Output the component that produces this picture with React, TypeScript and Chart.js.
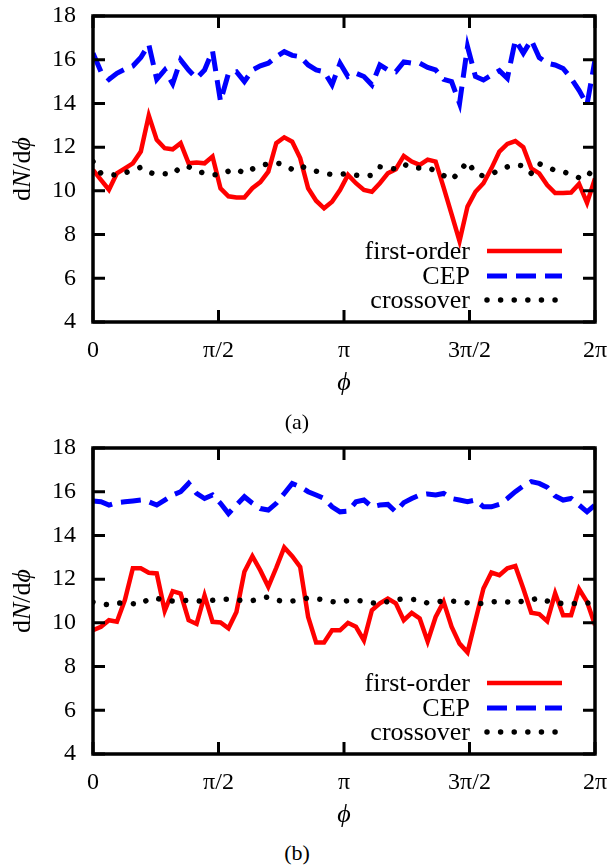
import React, { useEffect, useRef } from "react";
import { Chart, registerables } from "chart.js";

Chart.register(...registerables);

// ---------- data ----------
const N_INTERVALS = 63;
const PHI = Array.from({ length: N_INTERVALS + 1 }, (_, i) => (2 * Math.PI * i) / N_INTERVALS);

const X_TICK_VALUES = [0, Math.PI / 2, Math.PI, (3 * Math.PI) / 2, 2 * Math.PI];
const X_TICK_LABELS = ["0", "π/2", "π", "3π/2", "2π"];
const Y_MIN = 4;
const Y_MAX = 18;
const Y_STEP = 2;

const SERIES_LABELS = ["first-order", "CEP", "crossover"];
const CAPTIONS = ["(a)", "(b)"];
const PHI_GLYPH = "ϕ";

// panel (a)
const A_FIRST = [
  10.96, 10.5, 10.05, 10.8, 11.03, 11.26, 11.8, 13.45, 12.33, 11.95, 11.9, 12.18, 11.26, 11.3, 11.26, 11.57,
  10.12, 9.75, 9.7, 9.7, 10.12, 10.4, 10.88, 12.18, 12.45, 12.25, 11.5, 10.12, 9.55, 9.2, 9.5, 10.04,
  10.73, 10.35, 10.04, 9.96, 10.35, 10.8, 10.99, 11.6, 11.34, 11.19, 11.43, 11.34, 10.16, 8.94, 7.7, 9.28,
  9.96, 10.35, 11.03, 11.8, 12.15, 12.28, 12.0, 11.03, 10.8, 10.27, 9.9, 9.9, 9.92, 10.32, 9.45, 10.57,
];
const A_CEP = [
  16.3, 15.45, 15.1, 15.38, 15.56, 15.71, 16.1, 16.7, 15.1, 15.53, 14.9, 15.99, 15.53, 15.15, 15.53, 16.4,
  14.1, 15.38, 15.45, 15.0, 15.53, 15.72, 15.84, 16.14, 16.37, 16.2, 16.14, 15.76, 15.53, 15.45, 14.85, 15.84,
  15.23, 15.38, 15.23, 14.85, 15.76, 15.53, 15.45, 15.9, 15.84, 15.84, 15.65, 15.53, 15.1, 15.0, 14.0, 16.6,
  15.23, 15.07, 15.3, 15.5, 15.15, 16.9, 16.3, 16.9, 16.1, 15.84, 15.76, 15.6, 15.15, 14.6, 13.95, 15.99,
];
const A_CROSS = [
  11.34, 10.8, 10.75, 10.72, 10.82, 10.95, 11.08, 10.85, 10.75, 10.78, 10.75, 11.1, 11.1, 10.92, 10.8, 10.74,
  10.74, 10.9, 11.0, 10.8, 11.0, 11.16, 11.23, 11.28, 11.2, 10.98, 11.15, 11.0, 10.9, 10.8, 10.75, 10.75,
  10.8, 10.72, 10.66, 10.72, 11.1, 11.05, 11.0, 11.22, 11.05, 11.05, 11.06, 10.92, 10.7, 10.5, 10.88, 11.35,
  10.8, 10.68, 10.77, 10.95, 11.1, 11.19, 11.15, 10.8, 11.24, 11.1, 10.93, 10.88, 10.75, 10.6, 10.6, 11.19,
];

// panel (b)
const B_FIRST = [
  9.66, 9.82, 10.12, 10.05, 11.04, 12.5, 12.5, 12.29, 12.26, 10.55, 11.45, 11.34, 10.12, 9.95, 11.25, 10.05,
  10.02, 9.75, 10.5, 12.34, 13.05, 12.4, 11.65, 12.52, 13.45, 13.05, 12.56, 10.27, 9.1, 9.1, 9.66, 9.66,
  10.0, 9.82, 9.2, 10.58, 10.89, 11.11, 10.89, 10.12, 10.46, 10.2, 9.15, 10.27, 10.96, 9.82, 9.05, 8.65,
  10.12, 11.57, 12.3, 12.18, 12.5, 12.6, 11.57, 10.46, 10.4, 10.08, 11.35, 10.35, 10.35, 11.55, 10.96, 9.9,
];
const B_CEP = [
  15.58, 15.54, 15.39, 15.5, 15.54, 15.58, 15.62, 15.54, 15.39, 15.62, 15.85, 16.0, 16.38, 15.92, 15.69, 15.85,
  15.47, 15.0, 15.39, 15.77, 15.47, 15.23, 15.16, 15.47, 15.92, 16.38, 16.23, 16.0, 15.85, 15.69, 15.31, 15.08,
  15.11, 15.54, 15.62, 15.31, 15.39, 15.42, 15.08, 15.5, 15.69, 15.85, 15.9, 15.85, 15.92, 15.69, 15.62, 15.54,
  15.62, 15.31, 15.31, 15.42, 15.69, 16.0, 16.26, 16.46, 16.38, 16.2, 15.8, 15.62, 15.69, 15.39, 15.08, 15.39,
];
const B_CROSS = [
  10.95, 10.88, 10.82, 10.9, 10.92, 10.88, 10.85, 11.1, 11.12, 11.02, 11.0, 11.0, 11.04, 11.02, 10.97, 11.03,
  11.08, 11.08, 11.06, 11.0, 11.02, 11.1, 11.19, 11.05, 10.97, 11.0, 11.05, 11.14, 11.1, 11.06, 10.97, 10.93,
  11.02, 11.03, 11.0, 10.92, 10.87, 10.98, 11.05, 11.1, 11.08, 11.05, 10.9, 10.95, 11.0, 11.0, 10.97, 10.92,
  10.89, 10.89, 10.95, 11.0, 10.96, 10.92, 11.0, 11.05, 11.14, 11.0, 10.9, 10.89, 10.89, 10.89, 10.9, 10.93,
];

// ---------- style ----------
const FONT = "'Liberation Serif', 'Times New Roman', serif";
const SERIES_STYLE = [
  { color: "#ff0000", width: 4.5, dash: [] as number[], cap: "butt" as CanvasLineCap },
  { color: "#0000ff", width: 5, dash: [20, 9], cap: "butt" as CanvasLineCap },
  { color: "#000000", width: 5.5, dash: [0.01, 13.6], cap: "round" as CanvasLineCap },
];

const framePlugin = {
  id: "gnuplotFrame",
  afterDraw(chart: any) {
    const { ctx, chartArea, scales } = chart;
    const { left, right, top, bottom } = chartArea;
    const xs = scales.x;
    const ys = scales.y;
    ctx.save();
    ctx.strokeStyle = "#000";
    ctx.lineCap = "butt";
    ctx.setLineDash([]);
    ctx.lineWidth = 3;
    const tl = 12;
    ctx.beginPath();
    for (const v of X_TICK_VALUES) {
      const px = xs.getPixelForValue(v);
      ctx.moveTo(px, bottom);
      ctx.lineTo(px, bottom - tl);
      ctx.moveTo(px, top);
      ctx.lineTo(px, top + tl);
    }
    for (let v = Y_MIN; v <= Y_MAX; v += Y_STEP) {
      const py = ys.getPixelForValue(v);
      ctx.moveTo(left, py);
      ctx.lineTo(left + tl, py);
      ctx.moveTo(right, py);
      ctx.lineTo(right - tl, py);
    }
    ctx.stroke();
    ctx.lineWidth = 3.5;
    ctx.strokeRect(left, top, right - left, bottom - top);

    // y axis title: d N / d phi
    const parts = [
      { t: "d", it: false },
      { t: "N", it: true },
      { t: "/d", it: false },
      { t: PHI_GLYPH, it: true },
    ];
    const fs = 26;
    let total = 0;
    const widths: number[] = [];
    for (const p of parts) {
      ctx.font = `${p.it ? "italic " : ""}${fs}px ${FONT}`;
      const w = ctx.measureText(p.t).width;
      widths.push(w);
      total += w;
    }
    ctx.save();
    ctx.translate(23, (top + bottom) / 2);
    ctx.rotate(-Math.PI / 2);
    ctx.fillStyle = "#000";
    ctx.textBaseline = "middle";
    ctx.textAlign = "left";
    let cx = -total / 2;
    parts.forEach((p, i) => {
      ctx.font = `${p.it ? "italic " : ""}${fs}px ${FONT}`;
      ctx.fillText(p.t, cx, 0);
      cx += widths[i];
    });
    ctx.restore();

    // legend
    const rows = [235, 260, 284];
    ctx.font = `26px ${FONT}`;
    ctx.textAlign = "right";
    ctx.textBaseline = "middle";
    ctx.fillStyle = "#000";
    SERIES_LABELS.forEach((lab, i) => {
      const y = top + rows[i];
      ctx.fillText(lab, right - 125, y + 1);
      const st = SERIES_STYLE[i];
      ctx.beginPath();
      ctx.strokeStyle = st.color;
      ctx.lineWidth = st.width;
      ctx.lineCap = st.cap;
      ctx.setLineDash(st.dash);
      ctx.moveTo(right - 108, y);
      ctx.lineTo(right - 33, y);
      ctx.stroke();
    });
    ctx.restore();
  },
};

function makeConfig(first: number[], cep: number[], cross: number[]): any {
  const series = [first, cep, cross];
  return {
    type: "line",
    data: {
      datasets: series.map((vals, i) => ({
        label: SERIES_LABELS[i],
        data: PHI.map((x, k) => ({ x, y: vals[k] })),
        borderColor: SERIES_STYLE[i].color,
        backgroundColor: SERIES_STYLE[i].color,
        borderWidth: SERIES_STYLE[i].width,
        borderDash: SERIES_STYLE[i].dash,
        borderCapStyle: SERIES_STYLE[i].cap,
        borderJoinStyle: "miter",
        pointRadius: 0,
        tension: 0,
        fill: false,
        order: 2 - i,
      })),
    },
    options: {
      animation: false,
      responsive: false,
      devicePixelRatio: 1,
      layout: { padding: { top: 16, right: 12, left: 0, bottom: 0 } },
      plugins: { legend: { display: false }, tooltip: { enabled: false } },
      scales: {
        x: {
          type: "linear",
          min: 0,
          max: 2 * Math.PI,
          afterBuildTicks: (s: any) => {
            s.ticks = X_TICK_VALUES.map((v) => ({ value: v }));
          },
          afterFit: (s: any) => {
            s.height = 78;
            s.paddingLeft = 0;
            s.paddingRight = 0;
          },
          ticks: {
            callback: (_v: any, i: number) => X_TICK_LABELS[i],
            font: { family: FONT, size: 24 },
            color: "#000",
            padding: 14,
            maxRotation: 0,
            autoSkip: false,
          },
          grid: { display: false, drawTicks: false },
          border: { display: false },
          title: {
            display: true,
            text: PHI_GLYPH,
            color: "#000",
            font: { family: FONT, size: 26, style: "italic" },
            padding: { top: 0, bottom: 1 },
          },
        },
        y: {
          type: "linear",
          min: Y_MIN,
          max: Y_MAX,
          afterFit: (s: any) => {
            s.width = 93;
            s.paddingTop = 0;
            s.paddingBottom = 0;
          },
          ticks: {
            stepSize: Y_STEP,
            font: { family: FONT, size: 24 },
            color: "#000",
            padding: 17,
          },
          grid: { display: false, drawTicks: false },
          border: { display: false },
        },
      },
    },
    plugins: [framePlugin],
  };
}

function Panel({ first, cep, cross, top }: { first: number[]; cep: number[]; cross: number[]; top: number }) {
  const ref = useRef<HTMLCanvasElement | null>(null);
  useEffect(() => {
    if (!ref.current) return;
    const chart = new Chart(ref.current, makeConfig(first, cep, cross));
    return () => chart.destroy();
  }, [first, cep, cross]);
  return (
    <div style={{ position: "absolute", left: 0, top, width: 607, height: 400 }}>
      <canvas ref={ref} width={607} height={400} style={{ width: 607, height: 400, display: "block" }} />
    </div>
  );
}

export default function App() {
  const cap: React.CSSProperties = {
    position: "absolute",
    left: 0,
    width: 594,
    textAlign: "center",
    fontFamily: FONT,
    fontSize: 22,
    lineHeight: "26px",
    color: "#000",
  };
  return (
    <div style={{ position: "absolute", left: 0, top: 0, width: 607, height: 865, background: "#fff", overflow: "hidden" }}>
      <Panel first={A_FIRST} cep={A_CEP} cross={A_CROSS} top={0} />
      <Panel first={B_FIRST} cep={B_CEP} cross={B_CROSS} top={432} />
      <div style={{ ...cap, top: 409 }}>{CAPTIONS[0]}</div>
      <div style={{ ...cap, top: 840 }}>{CAPTIONS[1]}</div>
    </div>
  );
}
